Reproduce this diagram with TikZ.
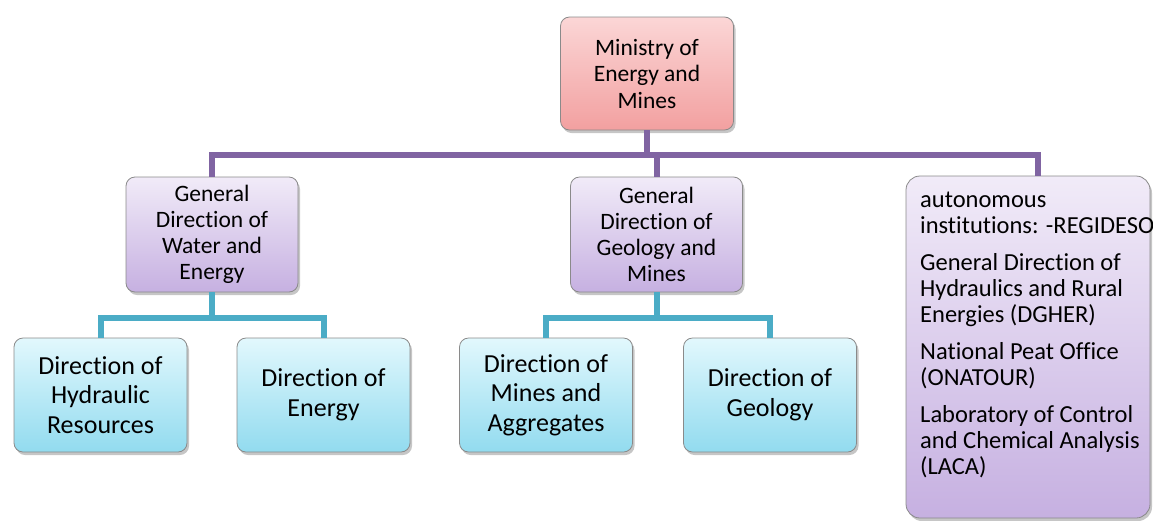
\documentclass[tikz,border=0pt]{standalone}
\usepackage{fontspec}
\setmainfont{Carlito}[Ligatures=NoCommon]
\usetikzlibrary{shadows}
\definecolor{pinkT}{HTML}{FBD6D6}
\definecolor{pinkB}{HTML}{F2A0A0}
\definecolor{purT}{HTML}{F1EBF8}
\definecolor{purB}{HTML}{C6B0E1}
\definecolor{cyT}{HTML}{E2F8FD}
\definecolor{cyB}{HTML}{92DBEF}
\definecolor{pline}{HTML}{8064A2}
\definecolor{tline}{HTML}{4BACC6}
\definecolor{edge}{HTML}{8A8A8A}
\tikzset{
  box/.style={draw=edge, line width=0.8pt, rounded corners=9pt, align=center,
    drop shadow={shadow xshift=2pt, shadow yshift=-3pt, opacity=0.45},
    inner sep=2pt},
  topbox/.style={box, top color=pinkT, bottom color=pinkB, minimum width=173pt, minimum height=113pt,
    font=\fontsize{23.5}{26.5}\selectfont},
  midbox/.style={box, top color=purT, bottom color=purB, minimum width=172pt, minimum height=115pt,
    font=\fontsize{23.5}{26}\selectfont},
  lowbox/.style={box, top color=cyT, bottom color=cyB, minimum width=173pt, minimum height=114pt,
    font=\fontsize{26}{29.5}\selectfont},
  autobox/.style={box, rounded corners=14pt, top color=purT, bottom color=purB, minimum width=244pt, minimum height=342pt},
  plink/.style={draw=pline, line width=6pt},
  tlink/.style={draw=tline, line width=6pt},
}
\begin{document}
\begin{tikzpicture}[x=1pt,y=-1pt]
\useasboundingbox (0,0) rectangle (1153,520);
% nodes
\node[topbox] (min) at (647,73.5) {Ministry of\\Energy and\\Mines};
\node[midbox] (gdwe) at (212,234.5) {General\\Direction of\\Water and\\Energy};
\node[midbox] (gdgm) at (656.5,234.5) {General\\Direction of\\Geology and\\Mines};
\node[autobox] (auto) at (1028,347) {};
\node[anchor=north west, align=left, inner sep=0pt, font=\fontsize{24.5}{26}\selectfont] (autotext) at (920,192)
  {autonomous\\institutions: -REGIDESO\\[11pt]General Direction of\\Hydraulics and Rural\\Energies (DGHER)\\[11pt]National Peat Office\\(ONATOUR)\\[11pt]Laboratory of Control\\and Chemical Analysis\\(LACA)};
\node[lowbox] (dhr) at (100.5,395) {Direction of\\Hydraulic\\Resources};
\node[lowbox] (de) at (323.5,395) {Direction of\\Energy};
\node[lowbox] (dma) at (546,395) {Direction of\\Mines and\\Aggregates};
\node[lowbox] (dg) at (770,395) {Direction of\\Geology};
% bus coordinates
\coordinate (bus) at (647,155);
\coordinate (autotop) at (1038,176);
\coordinate (tb1) at (212,318);
\coordinate (tb2) at (658,318);
% connectors
\draw[plink] (min.south) -- (bus);
\draw[plink] (gdwe.north) |- (bus) -| (autotop);
\draw[plink] (gdgm.north) -- (gdgm.north |- bus);
\draw[tlink] (gdwe.south) -- (tb1);
\draw[tlink] (dhr.north) |- (tb1) -| (de.north);
\draw[tlink] (gdgm.south) -- (gdgm.south |- tb2);
\draw[tlink] (dma.north) |- (tb2) -| (dg.north);
\end{tikzpicture}
\end{document}
